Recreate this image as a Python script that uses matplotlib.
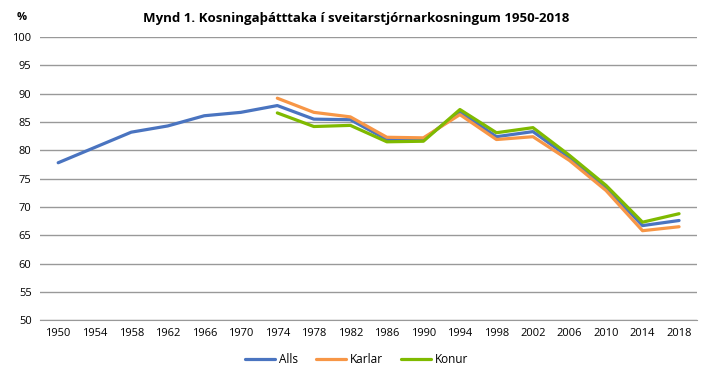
import matplotlib.pyplot as plt

years = list(range(1950, 2019, 4))
alls = [77.8, 80.5, 83.2, 84.3, 86.1, 86.7, 87.9, 85.5, 85.4, 81.9, 81.9,
        86.8, 82.4, 83.3, 78.7, 73.4, 66.7, 67.6]
karlar_years = years[6:]
karlar = [89.2, 86.7, 85.9, 82.3, 82.2, 86.3, 81.9, 82.4, 78.2, 72.9, 65.8, 66.5]
konur = [86.6, 84.2, 84.4, 81.5, 81.6, 87.2, 83.1, 84.0, 79.1, 73.8, 67.3, 68.8]

plt.rcParams['font.family'] = ['Open Sans', 'DejaVu Sans']

fig = plt.figure(figsize=(7.13, 3.78), dpi=100)
ax = fig.add_axes([0.056, 0.153, 0.922, 0.749])

ax.plot(years, alls, color='#4a74c0', lw=2.3, label='Alls', solid_capstyle='round')
ax.plot(karlar_years, karlar, color='#f79646', lw=2.3, label='Karlar', solid_capstyle='round')
ax.plot(karlar_years, konur, color='#7fba00', lw=2.3, label='Konur', solid_capstyle='round')

ax.set_xlim(1948, 2020)
ax.set_ylim(50, 100)
ax.set_xticks(years)
ax.set_yticks(range(50, 101, 5))
ax.tick_params(labelsize=8, length=0, pad=6)
ax.grid(axis='y', color='#999999', lw=1)
ax.set_axisbelow(True)
for s in ['top', 'right', 'left']:
    ax.spines[s].set_visible(False)
ax.spines['bottom'].set_color('#999999')

fig.text(0.5, 0.952, 'Mynd 1. Kosningaþátttaka í sveitarstjórnarkosningum 1950-2018',
         ha='center', va='center', fontsize=9.5, fontweight='bold')
fig.text(0.03, 0.955, '%', ha='center', va='center', fontsize=8, fontweight='bold')

fig.legend(loc='center', bbox_to_anchor=(0.5, 0.048), ncol=3, frameon=False,
           fontsize=8.5, handlelength=2.6, columnspacing=1.5, handletextpad=0.3)

fig.savefig('out.png', dpi=100)
